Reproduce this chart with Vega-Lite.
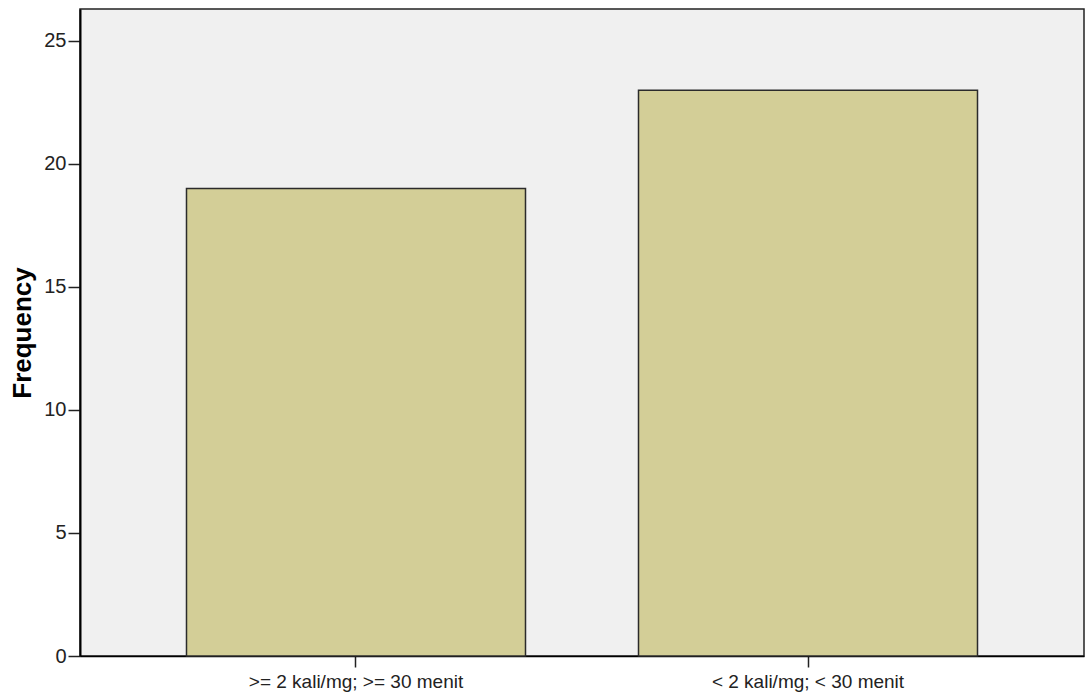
{
  "$schema": "https://vega.github.io/schema/vega-lite/v6.json",
  "autosize": {"type": "none"},
  "width": 1004,
  "height": 647,
  "padding": {"left": 80, "top": 9, "right": 1, "bottom": 42},
  "background": "#ffffff",
  "data": {
    "values": [
      {"category": ">= 2 kali/mg; >= 30 menit", "frequency": 19},
      {"category": "< 2 kali/mg; < 30 menit", "frequency": 23}
    ]
  },
  "config": {
    "view": {"fill": "#F0F0F0", "stroke": "#222222", "strokeWidth": 1.5},
    "font": "Liberation Sans"
  },
  "mark": {"type": "bar", "fill": "#D3CE97", "stroke": "#2b2b2b", "strokeWidth": 1.5},
  "encoding": {
    "x": {
      "field": "category",
      "type": "nominal",
      "sort": null,
      "scale": {"paddingInner": 0.25, "paddingOuter": 0.2356},
      "axis": {
        "title": null,
        "labelAngle": 0,
        "labelLimit": 0,
        "labelFontSize": 19,
        "labelColor": "#222222",
        "labelPadding": 5,
        "tickSize": 11,
        "tickColor": "#222222",
        "tickWidth": 1.5,
        "domainColor": "#000000",
        "domainWidth": 1.5
      }
    },
    "y": {
      "field": "frequency",
      "type": "quantitative",
      "scale": {"domain": [0, 26.3], "nice": false, "zero": true},
      "axis": {
        "title": "Frequency",
        "titleFontSize": 26,
        "titleFontWeight": "bold",
        "titleColor": "#000000",
        "titlePadding": 8,
        "values": [0, 5, 10, 15, 20, 25],
        "grid": false,
        "labelFontSize": 20,
        "labelColor": "#222222",
        "labelPadding": 2,
        "tickSize": 12,
        "tickColor": "#222222",
        "tickWidth": 1.5,
        "domainColor": "#000000",
        "domainWidth": 2
      }
    }
  }
}
